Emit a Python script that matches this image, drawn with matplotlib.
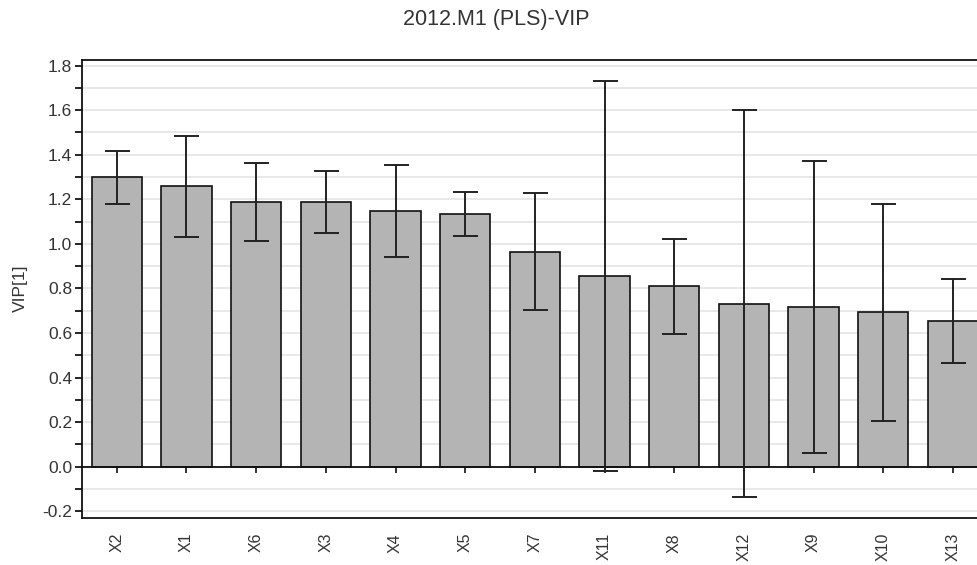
import numpy as np
import matplotlib
matplotlib.use('Agg')
import matplotlib.pyplot as plt
from matplotlib.ticker import MultipleLocator, FormatStrFormatter

plt.rcParams['font.family'] = ['Liberation Sans', 'DejaVu Sans']

# VIP values and their confidence half-widths
variables = ['X2', 'X1', 'X6', 'X3', 'X4', 'X5', 'X7', 'X11', 'X8', 'X12', 'X9', 'X10', 'X13']
vip = [1.298, 1.258, 1.190, 1.188, 1.148, 1.134, 0.965, 0.856, 0.810, 0.732, 0.716, 0.692, 0.653]
ci = [0.120, 0.228, 0.175, 0.140, 0.206, 0.097, 0.261, 0.877, 0.213, 0.870, 0.656, 0.489, 0.187]

x = np.arange(len(variables))

fig = plt.figure(figsize=(9.78, 5.65), dpi=100)
ax = fig.add_axes([0.0838, 0.0837, 1 - 0.0838, 0.8938 - 0.0837])

ax.yaxis.set_minor_locator(MultipleLocator(0.1))
ax.yaxis.set_major_locator(MultipleLocator(0.2))
ax.grid(True, which='both', axis='y', color='#e4e4e4', lw=1.2, zorder=0)
ax.set_axisbelow(True)

ax.bar(x, vip, width=0.72, color='#b4b4b4', edgecolor='#111111', linewidth=1.2, zorder=2)
ax.errorbar(x, vip, yerr=ci, fmt='none', ecolor='#222222', elinewidth=1.4,
            capsize=9, capthick=1.4, zorder=3)

# zero line with small tick marks under each bar
ax.axhline(0, color='#111111', lw=1.3, zorder=2.5)
ax.plot(x, np.zeros(len(x)), ls='', marker=3, ms=4, color='#111111', mew=1.2, zorder=2.5)

ax.set_xlim(-0.5, 12.36)
ax.set_ylim(-0.229, 1.825)
ax.set_xticks(x)
ax.set_xticklabels(variables, rotation=90, fontsize=11.5, color='#333333')
ax.tick_params(axis='x', length=0, pad=11)
ax.tick_params(axis='y', which='major', length=5, width=1.2, labelsize=12.5, labelcolor='#333333', pad=2)
ax.tick_params(axis='y', which='minor', length=5, width=1.2)
ax.yaxis.set_major_formatter(FormatStrFormatter('%.1f'))

for side in ['top', 'left', 'bottom']:
    ax.spines[side].set_linewidth(1.3)
    ax.spines[side].set_color('#111111')
ax.spines['right'].set_visible(False)

fig.text(20 / 978, 0.49, 'VIP[1]', rotation=90, ha='center', va='center', fontsize=12.5, color='#333333')
fig.text(0.507, 0.965, '2012.M1 (PLS)-VIP', ha='center', va='center', fontsize=15.5, color='#333333')

fig.savefig('out.png', dpi=100)
